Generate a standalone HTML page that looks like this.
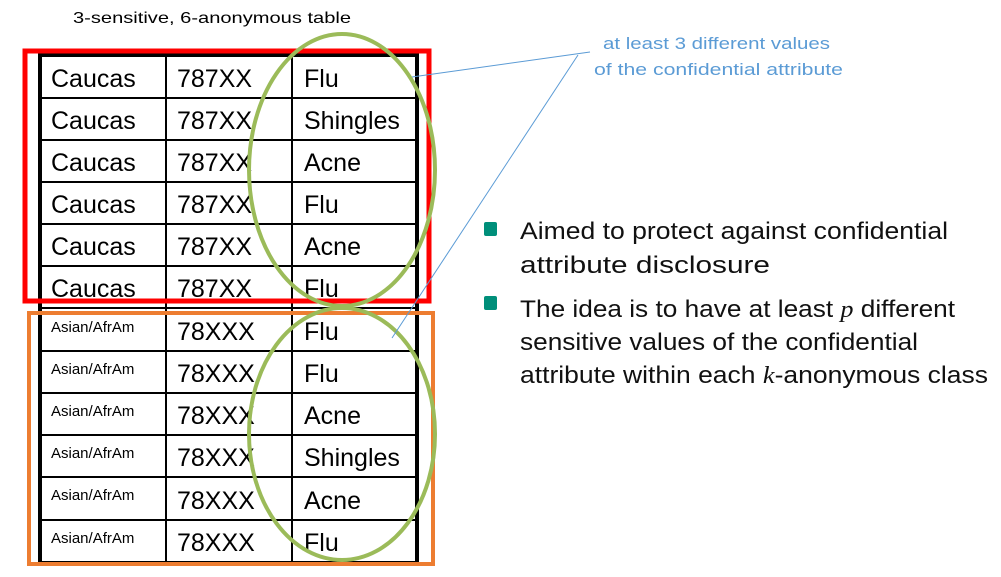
<!DOCTYPE html>
<html><head><meta charset="utf-8"><style>
html,body{margin:0;padding:0;background:#fff;}
svg{display:block;}
</style></head><body>
<svg width="1001" height="577" xmlns="http://www.w3.org/2000/svg" font-family="Liberation Sans, sans-serif">
<rect width="1001" height="577" fill="#fff"/>
<text x="73" y="23" font-size="16" textLength="278" lengthAdjust="spacingAndGlyphs">3-sensitive, 6-anonymous table</text>
<g stroke="#000" stroke-width="2">
<line x1="166" y1="55" x2="166" y2="564"/>
<line x1="292" y1="55" x2="292" y2="564"/>
<line x1="40" y1="98" x2="417" y2="98"/>
<line x1="40" y1="140" x2="417" y2="140"/>
<line x1="40" y1="182" x2="417" y2="182"/>
<line x1="40" y1="224" x2="417" y2="224"/>
<line x1="40" y1="266" x2="417" y2="266"/>
<line x1="40" y1="308" x2="417" y2="308"/>
<line x1="40" y1="351" x2="417" y2="351"/>
<line x1="40" y1="393" x2="417" y2="393"/>
<line x1="40" y1="435" x2="417" y2="435"/>
<line x1="40" y1="477" x2="417" y2="477"/>
<line x1="40" y1="520" x2="417" y2="520"/>
<line x1="40" y1="562" x2="417" y2="562"/>
</g>
<g stroke="#000" stroke-width="4">
<line x1="40" y1="55" x2="419" y2="55"/>
<line x1="40" y1="53" x2="40" y2="566"/>
<line x1="417" y1="53" x2="417" y2="566"/>
</g>
<g font-size="25">
<text x="51" y="87">Caucas</text><text x="177" y="87">787XX</text><text x="304" y="87">Flu</text>
<text x="51" y="129">Caucas</text><text x="177" y="129">787XX</text><text x="304" y="129">Shingles</text>
<text x="51" y="171">Caucas</text><text x="177" y="171">787XX</text><text x="304" y="171">Acne</text>
<text x="51" y="213">Caucas</text><text x="177" y="213">787XX</text><text x="304" y="213">Flu</text>
<text x="51" y="255">Caucas</text><text x="177" y="255">787XX</text><text x="304" y="255">Acne</text>
<text x="51" y="297">Caucas</text><text x="177" y="297">787XX</text><text x="304" y="297">Flu</text>
<text x="177" y="340">78XXX</text><text x="304" y="340">Flu</text>
<text x="177" y="382">78XXX</text><text x="304" y="382">Flu</text>
<text x="177" y="424">78XXX</text><text x="304" y="424">Acne</text>
<text x="177" y="466">78XXX</text><text x="304" y="466">Shingles</text>
<text x="177" y="509">78XXX</text><text x="304" y="509">Acne</text>
<text x="177" y="551">78XXX</text><text x="304" y="551">Flu</text>
</g>
<g font-size="15">
<text x="51" y="332">Asian/AfrAm</text>
<text x="51" y="374">Asian/AfrAm</text>
<text x="51" y="416">Asian/AfrAm</text>
<text x="51" y="458">Asian/AfrAm</text>
<text x="51" y="500">Asian/AfrAm</text>
<text x="51" y="543">Asian/AfrAm</text>
</g>
<rect x="25" y="51" width="404" height="250" fill="none" stroke="#ff0000" stroke-width="5"/>
<rect x="29" y="313" width="404" height="251" fill="none" stroke="#ed7d31" stroke-width="4"/>
<ellipse cx="342" cy="170" rx="93" ry="136" fill="none" stroke="#9bbb59" stroke-width="4"/>
<ellipse cx="342" cy="434" rx="93" ry="126" fill="none" stroke="#9bbb59" stroke-width="4"/>
<line x1="412" y1="77" x2="590" y2="52" stroke="#5b9bd5" stroke-width="1"/>
<line x1="392" y1="338" x2="578" y2="55" stroke="#5b9bd5" stroke-width="1"/>
<g fill="#5b9bd5" font-size="17">
<text x="603" y="49" textLength="227" lengthAdjust="spacingAndGlyphs">at least 3 different values</text>
<text x="594" y="75" textLength="249" lengthAdjust="spacingAndGlyphs">of the confidential attribute</text>
</g>
<rect x="484" y="222" width="13" height="14" rx="2" fill="#008f7a"/>
<rect x="484" y="296" width="13" height="14" rx="2" fill="#008f7a"/>
<g font-size="24" fill="#111">
<text x="520" y="239" textLength="428" lengthAdjust="spacingAndGlyphs">Aimed to protect against confidential</text>
<text x="520" y="273" textLength="250" lengthAdjust="spacingAndGlyphs">attribute disclosure</text>
<text x="520" y="317" textLength="435" lengthAdjust="spacingAndGlyphs">The idea is to have at least <tspan font-family="Liberation Serif, serif" font-style="italic">p</tspan> different</text>
<text x="520" y="350" textLength="398" lengthAdjust="spacingAndGlyphs">sensitive values of the confidential</text>
<text x="520" y="383" textLength="468" lengthAdjust="spacingAndGlyphs">attribute within each <tspan font-family="Liberation Serif, serif" font-style="italic">k</tspan>-anonymous class</text>
</g>
</svg>
</body></html>
